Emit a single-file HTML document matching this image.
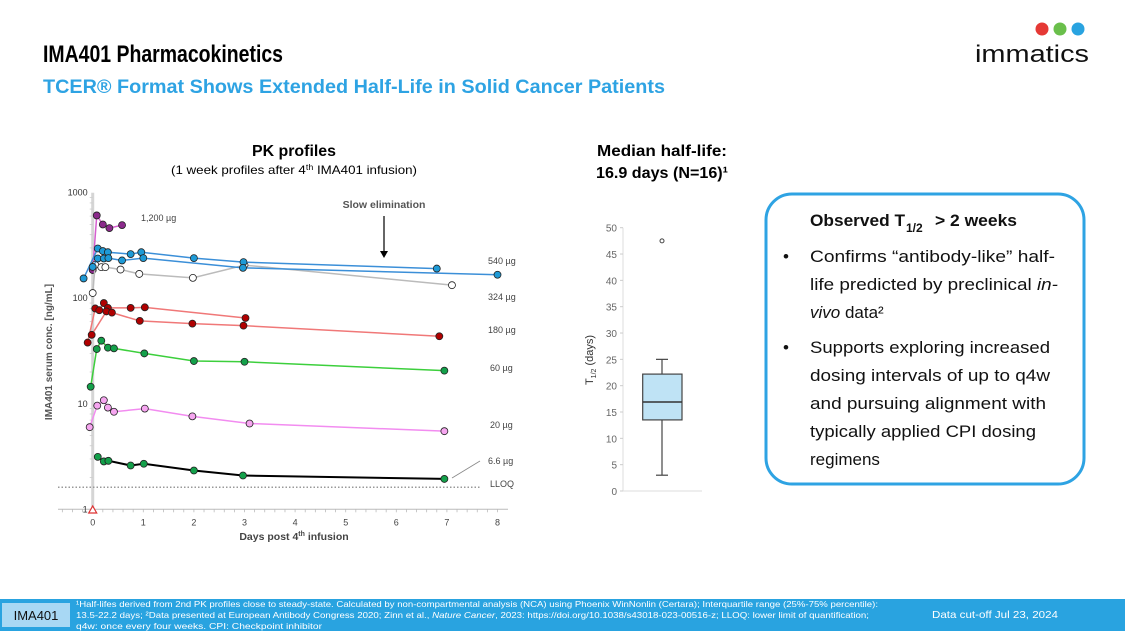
<!DOCTYPE html>
<html><head><meta charset="utf-8"><style>
html,body{margin:0;padding:0;background:#fff;}
svg{display:block;font-family:"Liberation Sans",sans-serif;}
</style></head><body>
<svg id="s" width="1125" height="631" viewBox="0 0 1125 631" xmlns="http://www.w3.org/2000/svg">
<text x="43" y="62" font-size="24" font-weight="bold" fill="#000" textLength="240" lengthAdjust="spacingAndGlyphs">IMA401 Pharmacokinetics</text>
<text x="43" y="93" font-size="19" font-weight="bold" fill="#2ea3e3" textLength="622" lengthAdjust="spacingAndGlyphs">TCER® Format Shows Extended Half-Life in Solid Cancer Patients</text>
<g>
<circle cx="1042" cy="29" r="6.5" fill="#e53935"/><circle cx="1060" cy="29" r="6.5" fill="#6abf4b"/><circle cx="1078" cy="29" r="6.5" fill="#29a3e0"/>
<text x="975" y="62" font-size="24" fill="#111" textLength="114" lengthAdjust="spacingAndGlyphs">immatics</text>
</g>
<text x="294" y="156" font-size="16" font-weight="bold" text-anchor="middle" textLength="84" lengthAdjust="spacingAndGlyphs">PK profiles</text>
<text x="294" y="174" font-size="12" text-anchor="middle" textLength="246" lengthAdjust="spacingAndGlyphs">(1 week profiles after 4<tspan font-size="8" dy="-4">th</tspan><tspan dy="4"> IMA401 infusion)</tspan></text>
<g id="pk"></g>
<text x="662" y="156" font-size="16" font-weight="bold" text-anchor="middle" textLength="130" lengthAdjust="spacingAndGlyphs">Median half-life:</text>
<text x="662" y="178" font-size="16" font-weight="bold" text-anchor="middle" textLength="132" lengthAdjust="spacingAndGlyphs">16.9 days (N=16)¹</text>
<g id="bx"></g>
<rect x="766" y="194" width="318" height="290" rx="26" fill="#fff" stroke="#2ea3e3" stroke-width="3"/>
<g font-size="17" fill="#111">
<text x="810" y="226" font-weight="bold" textLength="95" lengthAdjust="spacingAndGlyphs">Observed T</text>
<text x="906" y="232" font-weight="bold" font-size="12">1/2</text>
<text x="935" y="226" font-weight="bold" textLength="82" lengthAdjust="spacingAndGlyphs">&gt; 2 weeks</text>
<text x="783" y="262">•</text><text x="783" y="353">•</text>
<text x="810" y="262" textLength="245" lengthAdjust="spacingAndGlyphs">Confirms “antibody-like” half-</text>
<text x="810" y="290" textLength="248" lengthAdjust="spacingAndGlyphs">life predicted by preclinical <tspan font-style="italic">in-</tspan></text>
<text x="810" y="318"><tspan font-style="italic">vivo</tspan> data²</text>
<text x="810" y="353" textLength="240" lengthAdjust="spacingAndGlyphs">Supports exploring increased</text>
<text x="810" y="381" textLength="240" lengthAdjust="spacingAndGlyphs">dosing intervals of up to q4w</text>
<text x="810" y="409" textLength="236" lengthAdjust="spacingAndGlyphs">and pursuing alignment with</text>
<text x="810" y="437" textLength="226" lengthAdjust="spacingAndGlyphs">typically applied CPI dosing</text>
<text x="810" y="465">regimens</text>
</g>
<rect x="0" y="599" width="1125" height="32" fill="#29a3e0"/>
<rect x="2" y="603" width="68" height="24" fill="#a8d8f4"/>
<text x="36" y="620" font-size="13" text-anchor="middle" fill="#111">IMA401</text>
<g font-size="8.5" fill="#fff">
<text x="76" y="607" textLength="802" lengthAdjust="spacingAndGlyphs">¹Half-lifes derived from 2nd PK profiles close to steady-state. Calculated by non-compartmental analysis (NCA) using Phoenix WinNonlin (Certara); Interquartile range (25%-75% percentile):</text>
<text x="76" y="618" textLength="793" lengthAdjust="spacingAndGlyphs">13.5-22.2 days; ²Data presented at European Antibody Congress 2020; Zinn et al., <tspan font-style="italic">Nature Cancer</tspan>, 2023: https://doi.org/10.1038/s43018-023-00516-z; LLOQ: lower limit of quantification;</text>
<text x="76" y="629" textLength="246" lengthAdjust="spacingAndGlyphs">q4w: once every four weeks. CPI: Checkpoint inhibitor</text>
</g>
<text x="932" y="618" font-size="10.5" fill="#fff" textLength="126" lengthAdjust="spacingAndGlyphs">Data cut-off Jul 23, 2024</text>
</svg>
<script>
const NS="http://www.w3.org/2000/svg";
// PK data: days and concentration (ng/mL)
const purpleX=[0.0,0.08,0.2,0.33,0.58];
const purpleY=[185,609,500,462,493];
const blue1X=[-0.18,0.1,0.2,0.3,0.75,0.96,2,2.98,6.8];
const blue1Y=[154,296,280,273,262,273,240,220,191];
const blue2X=[0,0.1,0.22,0.31,0.58,1,2.97,8];
const blue2Y=[198,238,238,240,228,240,194,167];
const greyX=[0,0.05,0.17,0.25,0.55,0.92,1.98,3,7.1];
const greyY=[112,207,197,197,187,170,156,206,133];
const red1X=[-0.1,0.05,0.13,0.22,0.3,0.75,1.03,3.02];
const red1Y=[38,80,77,90,81,81,82,65];
const red2X=[-0.02,0.27,0.38,0.93,1.97,2.98,6.85];
const red2Y=[45,75,73,61,57.5,55,43.6];
const greenX=[-0.04,0.08,0.17,0.3,0.42,1.02,2,3,6.95];
const greenY=[14.5,33,39.6,34,33.5,30,25.4,25,20.6];
const pinkX=[-0.06,0.09,0.22,0.3,0.42,1.03,1.97,3.1,6.95];
const pinkY=[6,9.6,10.8,9.2,8.4,9,7.6,6.5,5.5];
const blackX=[0.1,0.22,0.31,0.75,1.01,2,2.97,6.95];
const blackY=[3.14,2.84,2.88,2.6,2.7,2.33,2.09,1.94];
const lloq=1.62;
const xTicks=[0,1,2,3,4,5,6,7,8];
const yTicks=[1,10,100,1000];
const doseLabels=["1,200 µg","540 µg","324 µg","180 µg","60 µg","20 µg","6.6 µg"];
// Boxplot data
const boxStats=[3,13.5,16.9,22.2,25];
const boxOutliers=[47.5];
const boxTicks=[0,5,10,15,20,25,30,35,40,45,50];

const X0=92.7,PX=50.6,YT=192.7,YB=509.3;
const sx=d=>X0+d*PX;
const sy=v=>YB-(Math.log10(v))*(YB-YT)/3;
const pk=document.getElementById('pk');
function mk(tag,at,par){const e=document.createElementNS(NS,tag);for(const k in at)e.setAttribute(k,at[k]);(par||pk).appendChild(e);return e;}
let ya=mk('line',{x1:X0,y1:YT,x2:X0,y2:YB,stroke:'#d5d5d5','stroke-width':3});


let xa=mk('line',{x1:58,y1:YB,x2:508,y2:YB,stroke:'#bbb','stroke-width':1});


for(let d=-0.6;d<=8.2;d+=0.2){mk('line',{x1:sx(d),y1:YB,x2:sx(d),y2:YB+3,stroke:'#bbb','stroke-width':0.8});}
for(let dec=0;dec<3;dec++){for(let m=2;m<=9;m++){const y=sy(m*Math.pow(10,dec));mk('line',{x1:X0-3,y1:y,x2:X0,y2:y,stroke:'#ccc','stroke-width':0.8});}}
xTicks.forEach(t=>{const e=mk('text',{x:sx(t),y:YB+16,'font-size':9,'text-anchor':'middle',fill:'#444'});e.textContent=t;

});
yTicks.forEach(t=>{const e=mk('text',{x:X0-5,y:sy(t)+3,'font-size':9,'text-anchor':'end',fill:'#333'});e.textContent=t;

});
let yt=mk('text',{x:0,y:0,'font-size':10,'font-weight':'bold',fill:'#555','text-anchor':'middle',transform:'translate(52,352) rotate(-90)'});
yt.textContent='IMA401 serum conc. [ng/mL]';


let xt=mk('text',{x:294,y:540,'font-size':10.5,'font-weight':'bold',fill:'#444','text-anchor':'middle'});
xt.innerHTML='Days post 4<tspan font-size="7" dy="-4">th</tspan><tspan dy="4"> infusion</tspan>';


let ll=mk('line',{x1:58,y1:sy(lloq),x2:480,y2:sy(lloq),stroke:'#999','stroke-width':1.5,'stroke-dasharray':'1.5 2'});


let tri=mk('path',{d:`M${X0-4},513 L${X0+4},513 L${X0},506 Z`,fill:'#fff',stroke:'#d33','stroke-width':1.2});


const series=[
 ['purple',purpleX,purpleY,'#d65fd0','#8b2a8b'],
 ['grey',greyX,greyY,'#bbb','#fff'],
 ['blue-1',blue1X,blue1Y,'#3b8fd8','#1e9ad6'],
 ['blue-2',blue2X,blue2Y,'#3b8fd8','#1e9ad6'],
 ['red-1',red1X,red1Y,'#f07878','#b00000'],
 ['red-2',red2X,red2Y,'#f07878','#b00000'],
 ['green',greenX,greenY,'#3ccf3c','#13a04a'],
 ['pink',pinkX,pinkY,'#f28cf0','#f6a6f0'],
 ['black',blackX,blackY,'#000','#13a04a']];
series.forEach(([n,xs,ys,lc,fc])=>{
 const pts=xs.map((x,i)=>sx(x)+','+sy(ys[i])).join(' ');
 const pl=mk('polyline',{points:pts,fill:'none',stroke:lc,'stroke-width':n==='black'?2:1.5});
 
 
 xs.forEach((x,i)=>{const c=mk('circle',{cx:sx(x),cy:sy(ys[i]),r:3.5,fill:fc,stroke:'#222','stroke-width':0.8});
 
 });
});
const labPos=[[141,221],[488,264],[488,300],[488,333],[490,371],[490,428],[488,464]];
doseLabels.forEach((t,i)=>{const e=mk('text',{x:labPos[i][0],y:labPos[i][1],'font-size':9,fill:'#444'});e.textContent=t;

});
let lt=mk('text',{x:490,y:487,'font-size':9,fill:'#444'});lt.textContent='LLOQ';


mk('line',{x1:452,y1:478,x2:480,y2:461,stroke:'#888','stroke-width':0.8});
let se=mk('text',{x:384,y:208,'font-size':10.5,'font-weight':'bold',fill:'#555','text-anchor':'middle'});se.textContent='Slow elimination';


mk('line',{x1:384,y1:216,x2:384,y2:252,stroke:'#000','stroke-width':1.2});
mk('path',{d:'M380,251 L388,251 L384,258 Z',fill:'#000'});

const bx=document.getElementById('bx');
const BY0=491,BY1=227.7,AX=623,CX=662;
const by=v=>BY0-v*(BY0-BY1)/50;
mk('line',{x1:AX,y1:BY1,x2:AX,y2:BY0,stroke:'#ddd','stroke-width':1},bx);
mk('line',{x1:AX,y1:BY0,x2:702,y2:BY0,stroke:'#ddd','stroke-width':1},bx);
boxTicks.forEach(t=>{const e=mk('text',{x:AX-6,y:by(t)+4,'font-size':10,'text-anchor':'end',fill:'#666'},bx);e.textContent=t;


mk('line',{x1:AX-3,y1:by(t),x2:AX,y2:by(t),stroke:'#ccc'},bx);});
let bt=mk('text',{x:0,y:0,'font-size':11,fill:'#333','text-anchor':'middle',transform:'translate(593,360) rotate(-90)'},bx);
bt.innerHTML='T<tspan font-size="7" dy="3">1/2</tspan><tspan dy="-3"> (days)</tspan>';


mk('line',{x1:CX,y1:by(boxStats[0]),x2:CX,y2:by(boxStats[4]),stroke:'#444','stroke-width':1.2},bx);
mk('line',{x1:CX-6,y1:by(boxStats[0]),x2:CX+6,y2:by(boxStats[0]),stroke:'#444','stroke-width':1.2},bx);
mk('line',{x1:CX-6,y1:by(boxStats[4]),x2:CX+6,y2:by(boxStats[4]),stroke:'#444','stroke-width':1.2},bx);
let br=mk('rect',{x:642.7,y:by(boxStats[3]),width:39.3,height:by(boxStats[1])-by(boxStats[3]),fill:'#bfe3f5',stroke:'#444','stroke-width':1.2},bx);


let md=mk('line',{x1:642.7,y1:by(boxStats[2]),x2:682,y2:by(boxStats[2]),stroke:'#333','stroke-width':1.5},bx);


boxOutliers.forEach(o=>{const c=mk('circle',{cx:CX,cy:by(o),r:2,fill:'#fff',stroke:'#444','stroke-width':1},bx);

});
</script>
</body></html>
